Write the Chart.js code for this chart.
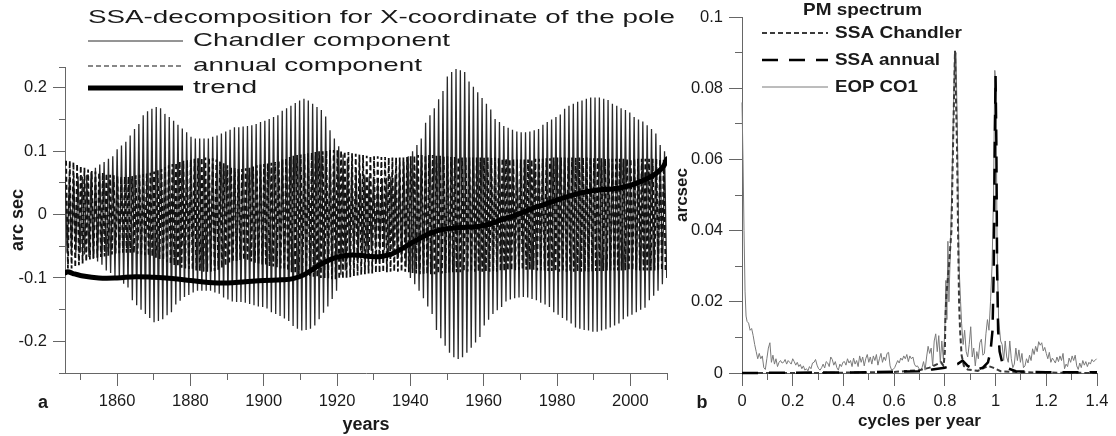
<!DOCTYPE html>
<html><head><meta charset="utf-8">
<script src="https://cdn.jsdelivr.net/npm/chart.js@4.4.1/dist/chart.umd.min.js"></script>
<style>
html,body{margin:0;padding:0;background:#fff;width:1116px;height:436px;overflow:hidden}
#cA{position:absolute;left:0;top:0;width:680px;height:436px}
#cB{position:absolute;left:672px;top:0;width:444px;height:436px}
</style></head><body>
<canvas id="cA" width="680" height="436"></canvas>
<canvas id="cB" width="444" height="436"></canvas>
<script>
// ---------- Panel a: SSA decomposition (arc sec) ----------
const FIRST_YEAR = 1846;
// Chandler component envelope (amplitude per year 1846..2010)
const chandlerEnvelope = [
 0.06,0.06,0.06,0.06,0.06,0.063,0.067,0.07,0.074,0.079,
 0.083,0.088,0.092,0.097,0.103,0.109,0.115,0.125,0.135,0.143,
 0.15,0.157,0.163,0.167,0.17,0.168,0.165,0.159,0.154,0.148,
 0.142,0.136,0.13,0.127,0.123,0.12,0.12,0.12,0.12,0.12,
 0.123,0.125,0.128,0.131,0.134,0.137,0.138,0.138,0.139,0.14,
 0.141,0.143,0.145,0.146,0.148,0.151,0.154,0.157,0.16,0.164,
 0.168,0.172,0.176,0.18,0.183,0.182,0.18,0.175,0.17,0.165,
 0.155,0.145,0.133,0.12,0.108,0.095,0.088,0.08,0.075,0.07,
 0.065,0.062,0.06,0.057,0.055,0.055,0.056,0.058,0.06,0.063,
 0.07,0.075,0.083,0.092,0.1,0.11,0.12,0.132,0.145,0.157,
 0.168,0.182,0.195,0.207,0.218,0.225,0.23,0.228,0.225,0.218,
 0.21,0.202,0.193,0.184,0.175,0.166,0.157,0.151,0.146,0.14,
 0.137,0.134,0.132,0.131,0.13,0.13,0.131,0.133,0.135,0.139,
 0.142,0.146,0.15,0.154,0.158,0.163,0.167,0.172,0.175,0.178,
 0.18,0.182,0.183,0.185,0.185,0.185,0.183,0.181,0.178,0.175,
 0.172,0.168,0.165,0.161,0.158,0.154,0.15,0.147,0.141,0.135,
 0.128,0.12,0.11,0.1,0.09
];
// annual component envelope (amplitude per year 1846..2010)
const annualEnvelope = [
 0.085,0.085,0.083,0.08,0.077,0.074,0.071,0.069,0.068,0.067,
 0.066,0.065,0.063,0.062,0.061,0.06,0.06,0.06,0.061,0.062,
 0.063,0.064,0.065,0.066,0.068,0.07,0.072,0.075,0.078,0.08,
 0.082,0.084,0.085,0.086,0.087,0.088,0.089,0.09,0.09,0.09,
 0.089,0.087,0.084,0.081,0.078,0.075,0.073,0.072,0.072,0.073,
 0.074,0.076,0.078,0.079,0.08,0.081,0.082,0.083,0.085,0.087,
 0.089,0.091,0.093,0.094,0.095,0.096,0.097,0.098,0.099,0.1,
 0.1,0.101,0.102,0.102,0.102,0.101,0.1,0.099,0.097,0.096,
 0.095,0.094,0.093,0.093,0.092,0.092,0.091,0.091,0.09,0.09,
 0.09,0.09,0.09,0.091,0.092,0.093,0.094,0.094,0.094,0.094,
 0.094,0.093,0.093,0.092,0.092,0.091,0.091,0.091,0.09,0.09,
 0.09,0.09,0.09,0.09,0.09,0.09,0.09,0.09,0.089,0.089,
 0.088,0.088,0.088,0.087,0.087,0.087,0.087,0.087,0.088,0.088,
 0.088,0.089,0.089,0.09,0.09,0.09,0.09,0.09,0.09,0.09,
 0.09,0.09,0.09,0.09,0.089,0.089,0.089,0.088,0.088,0.088,
 0.088,0.088,0.088,0.088,0.088,0.088,0.088,0.088,0.088,0.088,
 0.088,0.088,0.088,0.088,0.088
];
const chandlerPeriod = 1.185;   // years
const annualPeriod = 1.0;       // years
const chandlerPhase = 1845.8;
const annualPhase = 1846.1;
const trendYears = [1845.9,1846.5,1848,1850,1855,1860,1865,1870,1875,1880,1885,1890,1895,1900,1905,1908,1911,1914,1917,1920,1923,1926,1929,1932,1935,1937,1940,1943,1946,1949,1952,1955,1958,1961,1964,1967,1970,1973,1976,1979,1982,1985,1988,1991,1994,1997,2000,2003,2005,2007,2009,2010];
const trendValues = [-0.092,-0.09,-0.093,-0.096,-0.1,-0.1,-0.098,-0.099,-0.101,-0.104,-0.107,-0.108,-0.106,-0.104,-0.103,-0.101,-0.095,-0.084,-0.074,-0.067,-0.064,-0.064,-0.066,-0.066,-0.062,-0.056,-0.046,-0.036,-0.028,-0.023,-0.021,-0.02,-0.019,-0.016,-0.01,-0.004,0.002,0.009,0.015,0.021,0.027,0.032,0.036,0.039,0.04,0.042,0.046,0.053,0.058,0.065,0.076,0.088];
const yearMin = 1845.8, yearMax = 2010;
const leftYMin = -0.25, leftYMax = 0.233;
const leftYMajor = [-0.2,-0.1,0,0.1,0.2];
const leftYMajorLabels = ['-0.2','-0.1','0','0.1','0.2'];
const leftYMinor = [-0.25,-0.15,-0.05,0.05,0.15,0.233];
const leftXMajor = [1860,1880,1900,1920,1940,1960,1980,2000];
const leftXMajorLabels = ['1860','1880','1900','1920','1940','1960','1980','2000'];
const leftXMinor = [1850,1870,1890,1910,1930,1950,1970,1990,2010];

// ---------- Panel b: PM spectrum (arcsec vs cycles per year) ----------
const eopSpectrum = [
 [0,0.076],[0.004,0.06],[0.008,0.04],[0.012,0.023],[0.016,0.016],[0.02,0.0145],[0.026,0.014],[0.032,0.012],[0.038,0.0125],[0.044,0.0105],
 [0.05,0.008],[0.056,0.006],[0.062,0.004],[0.068,0.0055],[0.074,0.004],[0.08,0.0048],[0.086,0.0015],[0.092,0.001],[0.098,0.004],[0.104,0.007],
 [0.11,0.0085],[0.116,0.003],[0.122,0.005],[0.128,0.0025],[0.134,0.004],[0.14,0.0018],[0.146,0.003],[0.152,0.0035],[0.158,0.0028],[0.164,0.003],
 [0.17,0.0038],[0.176,0.0025],[0.182,0.0035],[0.188,0.003],[0.194,0.0025],[0.2,0.004],[0.206,0.0032],[0.212,0.0022],[0.218,0.003],[0.224,0.0018],
 [0.23,0.0024],[0.236,0.0012],[0.242,0.002],[0.248,0.0008],[0.254,0.0012],[0.26,0.0006],[0.266,0.0018],[0.272,0.0012],[0.278,0.0028],[0.284,0.003],
 [0.29,0.0038],[0.296,0.0022],[0.302,0.0012],[0.308,0.0008],[0.314,0.0015],[0.32,0.0025],[0.326,0.0014],[0.332,0.0032],[0.338,0.0028],[0.344,0.0018],
 [0.35,0.0045],[0.356,0.0038],[0.362,0.0022],[0.368,0.0032],[0.374,0.0015],[0.38,0.0008],[0.386,0.0025],[0.392,0.0018],[0.398,0.003],[0.404,0.0032],
 [0.41,0.0022],[0.416,0.004],[0.422,0.0028],[0.428,0.0035],[0.434,0.0018],[0.44,0.0042],[0.446,0.0025],[0.452,0.0035],[0.458,0.0018],[0.464,0.0048],
 [0.47,0.003],[0.476,0.0045],[0.482,0.002],[0.488,0.004],[0.494,0.0052],[0.5,0.003],[0.506,0.0045],[0.512,0.0025],[0.518,0.0048],[0.524,0.0035],
 [0.53,0.0052],[0.536,0.0022],[0.542,0.004],[0.548,0.0055],[0.554,0.003],[0.56,0.0045],[0.566,0.0035],[0.572,0.0055],[0.578,0.0058],[0.584,0.002],
 [0.59,0.0008],[0.596,0.001],[0.602,0.0015],[0.608,0.0025],[0.614,0.0035],[0.62,0.0028],[0.626,0.0042],[0.632,0.0036],[0.638,0.0048],[0.644,0.004],
 [0.65,0.0052],[0.656,0.0032],[0.662,0.0048],[0.668,0.004],[0.674,0.0045],[0.68,0.0025],[0.686,0.0018],[0.692,0.002],[0.698,0.0012],[0.704,0.0008],
 [0.71,0.0015],[0.716,0.0032],[0.722,0.0008],[0.728,0.0045],[0.734,0.0075],[0.74,0.0055],[0.746,0.007],[0.752,0.002],[0.758,0.009],[0.764,0.011],
 [0.77,0.006],[0.776,0.0105],[0.782,0.003],[0.788,0.009],[0.794,0.004],[0.8,0.012],[0.804,0.026],[0.808,0.015],[0.812,0.037],[0.816,0.02],
 [0.822,0.035],[0.83,0.06],[0.838,0.088],[0.844,0.09],[0.85,0.065],[0.856,0.03],[0.862,0.02],[0.866,0.014],[0.872,0.008],[0.878,0.012],
 [0.884,0.006],[0.89,0.0045],[0.896,0.008],[0.902,0.013],[0.908,0.0045],[0.914,0.007],[0.92,0.002],[0.926,0.006],[0.932,0.004],[0.938,0.0085],
 [0.944,0.0095],[0.95,0.005],[0.956,0.0055],[0.962,0.011],[0.968,0.015],[0.974,0.012],[0.98,0.02],[0.986,0.03],[0.992,0.05],[0.997,0.085],
 [1.002,0.08],[1.006,0.035],[1.012,0.015],[1.02,0.009],[1.026,0.008],[1.032,0.0035],[1.038,0.009],[1.044,0.0045],[1.05,0.003],[1.056,0.009],
 [1.062,0.004],[1.068,0.0015],[1.074,0.0025],[1.08,0.007],[1.086,0.0035],[1.092,0.0065],[1.098,0.003],[1.104,0.0055],[1.11,0.0015],[1.116,0.002],
 [1.122,0.004],[1.128,0.0028],[1.134,0.005],[1.14,0.0035],[1.146,0.0068],[1.152,0.0052],[1.158,0.0075],[1.164,0.006],[1.17,0.0088],[1.176,0.0078],
 [1.182,0.0085],[1.188,0.0062],[1.194,0.0072],[1.2,0.0055],[1.206,0.004],[1.212,0.0058],[1.218,0.003],[1.224,0.0042],[1.23,0.0035],[1.236,0.0028],
 [1.242,0.0045],[1.248,0.0032],[1.254,0.0048],[1.26,0.0035],[1.266,0.0055],[1.272,0.0012],[1.278,0.0025],[1.284,0.0018],[1.29,0.0042],[1.296,0.003],
 [1.302,0.0048],[1.308,0.0035],[1.314,0.005],[1.32,0.002],[1.326,0.001],[1.332,0.0028],[1.338,0.0015],[1.344,0.0035],[1.35,0.0022],[1.356,0.0032],
 [1.362,0.0018],[1.368,0.003],[1.374,0.0025],[1.38,0.0038],[1.386,0.0032],[1.392,0.0035],[1.398,0.004]
];
const chandlerSpectrum = [[0,0],[0.3,0],[0.6,0.0003],[0.7,0.0008],[0.74,0.0015],[0.77,0.0025],[0.785,0.003],[0.795,0.002],[0.8,0.006],[0.802,0.015],[0.806,0.022],[0.816,0.03],[0.826,0.04],[0.832,0.063],[0.84,0.0905],[0.848,0.063],[0.852,0.04],[0.856,0.02],[0.86,0.012],[0.866,0.005],[0.875,0.002],[0.89,0.001],[0.93,0.0006],[0.97,0.002],[0.99,0.0015],[1.02,0.0005],[1.1,0.0002],[1.4,0]];
const annualSpectrum = [[0,0],[0.5,0.0002],[0.7,0.0005],[0.75,0.001],[0.8,0.0015],[0.85,0.0025],[0.87,0.0035],[0.89,0.002],[0.92,0.0008],[0.95,0.0015],[0.97,0.003],[0.98,0.006],[0.988,0.012],[0.993,0.03],[0.997,0.065],[1.0,0.0834],[1.003,0.065],[1.006,0.03],[1.01,0.012],[1.016,0.006],[1.026,0.003],[1.04,0.0015],[1.08,0.0005],[1.2,0.0002],[1.4,0.0002]];
const rightXMajor = [0,0.2,0.4,0.6,0.8,1.0,1.2,1.4];
const rightXMajorLabels = ['0','0.2','0.4','0.6','0.8','1','1.2','1.4'];
const rightXMinor = [0.1,0.3,0.5,0.7,0.9,1.1,1.3];
const rightYMajor = [0,0.02,0.04,0.06,0.08,0.1];
const rightYMajorLabels = ['0','0.02','0.04','0.06','0.08','0.1'];
const rightYMinor = [0.01,0.03,0.05,0.07,0.09];

// ---------- helpers ----------
const FONT = '"Liberation Sans", Arial, Helvetica, sans-serif';
const AXIS = '#666';
const TXT = '#1a1a1a';

function oscillation(envelope, period, phase) {
  const pts = [];
  for (let k = 0; ; k++) {
    const t = phase + k * period / 2;
    if (t > yearMax) break;
    const idx = Math.max(0, Math.min(envelope.length - 1, Math.floor(t) - FIRST_YEAR));
    pts.push({x: t, y: (k % 2 === 0 ? 1 : -1) * envelope[idx]});
  }
  return pts;
}
const pairs = arr => arr.map(p => ({x: p[0], y: p[1]}));
const setTicks = values => axis => { axis.ticks = values.map(v => ({value: v})); };

function majorAxis(pos, min, max, ticks, labels, size, tickLen, pad, title) {
  return {
    type: 'linear', position: pos, min, max, weight: 1,
    afterBuildTicks: setTicks(ticks),
    afterFit: s => { if (pos === 'left') s.width = size; else s.height = size; },
    ticks: {autoSkip: false, maxRotation: 0, minRotation: 0, padding: pad, color: TXT,
            font: {family: FONT, size: 16.5}, callback: (v, i) => labels[i]},
    grid: {drawOnChartArea: false, drawTicks: true, tickLength: tickLen, color: AXIS, lineWidth: 1},
    border: {display: true, color: AXIS, width: 1},
    title: title
  };
}
function minorAxis(pos, min, max, ticks, tickLen) {
  return {
    type: 'linear', position: pos, min, max, weight: 0,
    afterBuildTicks: setTicks(ticks),
    afterFit: s => { if (pos === 'left') s.width = 0; else s.height = 0; },
    ticks: {display: false},
    grid: {drawOnChartArea: false, drawTicks: true, tickLength: tickLen, color: AXIS, lineWidth: 1},
    border: {display: false}
  };
}
function stretchText(ctx, text, x, y, font, width, color) {
  ctx.save();
  ctx.font = font; ctx.fillStyle = color; ctx.textBaseline = 'middle'; ctx.textAlign = 'left';
  const w = ctx.measureText(text).width;
  ctx.translate(x, y); ctx.scale(width / w, 1); ctx.fillText(text, 0, 0);
  ctx.restore();
}
function sample(ctx, ds, x1, x2, y, width) {
  ctx.save();
  ctx.strokeStyle = ds.borderColor; ctx.lineWidth = width || ds.borderWidth;
  ctx.setLineDash(ds.borderDash || []); ctx.lineCap = 'butt';
  ctx.beginPath(); ctx.moveTo(x1, y); ctx.lineTo(x2, y); ctx.stroke();
  ctx.restore();
}

// ---------- chart a ----------
const dsChandler = {label: 'Chandler component', data: oscillation(chandlerEnvelope, chandlerPeriod, chandlerPhase),
  borderColor: '#2a2a2a', borderWidth: 1.3, pointRadius: 0, tension: 0, order: 2};
const dsAnnual = {label: 'annual component', data: oscillation(annualEnvelope, annualPeriod, annualPhase),
  borderColor: '#111', borderWidth: 1.8, borderDash: [5, 3], pointRadius: 0, tension: 0, order: 1};
const dsTrend = {label: 'trend', data: trendYears.map((y, i) => ({x: y, y: trendValues[i]})),
  borderColor: '#000', borderWidth: 5, borderCapStyle: 'round', pointRadius: 0, tension: 0.4, order: 0};

const decorA = {
  id: 'decorA',
  afterDraw(chart) {
    const ctx = chart.ctx;
    stretchText(ctx, 'SSA-decomposition for X-coordinate of the pole', 88, 18, `18.5px ${FONT}`, 587, TXT);
    const items = [[dsChandler, 41, 257, 1], [dsAnnual, 66, 229, 1.2], [dsTrend, 88, 64, 5]];
    items.forEach(([ds, y, w, lw]) => {
      sample(ctx, ds, 88, 183, y, lw);
      stretchText(ctx, ds.label, 193, y, `18.5px ${FONT}`, w, TXT);
    });
    ctx.save(); ctx.font = `bold 18px ${FONT}`; ctx.fillStyle = TXT; ctx.textAlign = 'center'; ctx.textBaseline = 'middle';
    ctx.fillText('a', 43, 403); ctx.restore();
  }
};

new Chart(document.getElementById('cA'), {
  type: 'line',
  data: {datasets: [dsTrend, dsAnnual, dsChandler]},
  options: {
    responsive: false, animation: false, events: [],
    layout: {padding: {left: 0, top: 67, right: 13, bottom: 0}},
    plugins: {legend: {display: false}, tooltip: {enabled: false}, title: {display: false}},
    scales: {
      x: majorAxis('bottom', yearMin, yearMax, leftXMajor, leftXMajorLabels, 63, 13, 6,
           {display: true, text: 'years', color: TXT, font: {family: FONT, size: 18, weight: 'bold'}, padding: {top: 0, bottom: 0}}),
      x2: minorAxis('bottom', yearMin, yearMax, leftXMinor, 7),
      y: majorAxis('left', leftYMin, leftYMax, leftYMajor, leftYMajorLabels, 65, 12, 6,
           {display: true, text: 'arc sec', color: TXT, font: {family: FONT, size: 18, weight: 'bold'}, padding: {top: 7, bottom: 0}}),
      y2: minorAxis('left', leftYMin, leftYMax, leftYMinor, 6)
    }
  },
  plugins: [decorA]
});

// ---------- chart b ----------
const dsEop = {label: 'EOP CO1', data: pairs(eopSpectrum), borderColor: '#7a7a7a', borderWidth: 1,
  pointRadius: 0, tension: 0, order: 2, clip: false};
const dsSsaCh = {label: 'SSA Chandler', data: pairs(chandlerSpectrum), borderColor: '#3a3a3a', borderWidth: 2,
  borderDash: [5, 3], pointRadius: 0, tension: 0, order: 1, clip: false};
const dsSsaAn = {label: 'SSA annual', data: pairs(annualSpectrum), borderColor: '#000', borderWidth: 2.5,
  borderDash: [16, 11], pointRadius: 0, tension: 0, order: 0, clip: false};

const decorB = {
  id: 'decorB',
  afterDraw(chart) {
    const ctx = chart.ctx;
    stretchText(ctx, 'PM spectrum', 131, 10, `bold 16.5px ${FONT}`, 119, TXT);
    const items = [[dsSsaCh, 33, 127], [dsSsaAn, 60, 105], [dsEop, 87, 83]];
    items.forEach(([ds, y, w]) => {
      sample(ctx, ds, 90, 156, y);
      stretchText(ctx, ds.label, 163, y, `bold 16.5px ${FONT}`, w, TXT);
    });
    ctx.save(); ctx.font = `bold 18px ${FONT}`; ctx.fillStyle = TXT; ctx.textAlign = 'center'; ctx.textBaseline = 'middle';
    ctx.fillText('b', 30, 403); ctx.restore();
  }
};

new Chart(document.getElementById('cB'), {
  type: 'line',
  data: {datasets: [dsSsaAn, dsSsaCh, dsEop]},
  options: {
    responsive: false, animation: false, events: [],
    layout: {padding: {left: 0, top: 17, right: 19, bottom: 0}},
    plugins: {legend: {display: false}, tooltip: {enabled: false}, title: {display: false}},
    scales: {
      x: majorAxis('bottom', 0, 1.4, rightXMajor, rightXMajorLabels, 63, 13, 6,
           {display: true, text: 'cycles per year', color: TXT, font: {family: FONT, size: 17, weight: 'bold'}, padding: {top: 0, bottom: 4}}),
      x2: minorAxis('bottom', 0, 1.4, rightXMinor, 7),
      y: majorAxis('left', 0, 0.1, rightYMajor, rightYMajorLabels, 70, 13, 6,
           {display: true, text: 'arcsec', color: TXT, font: {family: FONT, size: 17, weight: 'bold'}, padding: {top: 0, bottom: 0}}),
      y2: minorAxis('left', 0, 0.1, rightYMinor, 7)
    }
  },
  plugins: [decorB]
});
</script></body></html>
